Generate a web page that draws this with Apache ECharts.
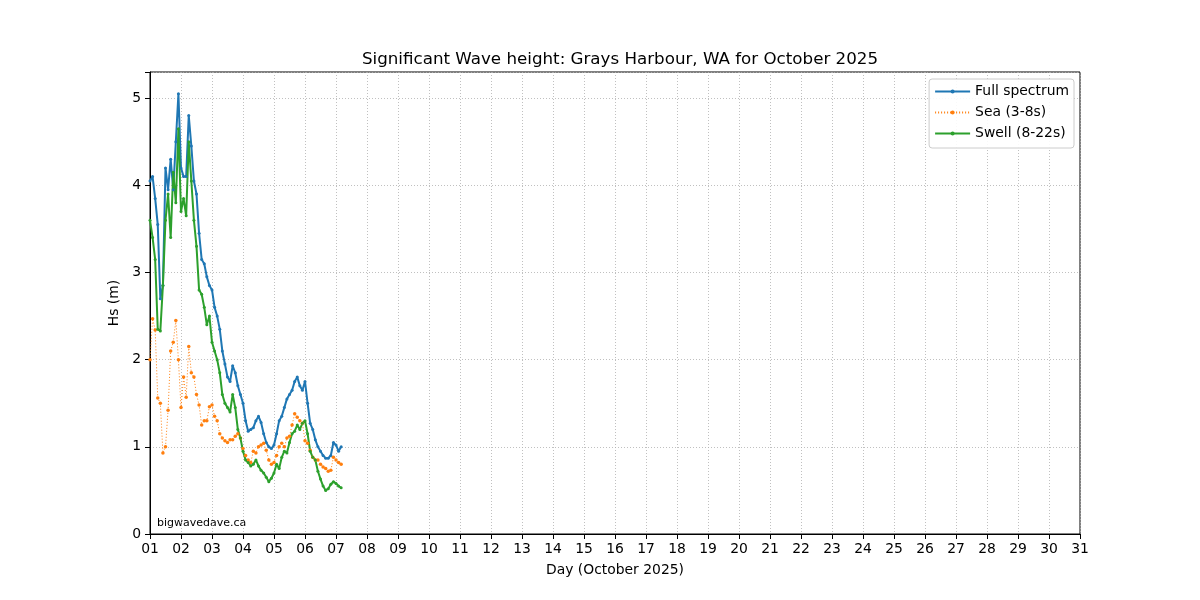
<!DOCTYPE html>
<html><head><meta charset="utf-8">
<script src="https://cdn.jsdelivr.net/npm/echarts@6/dist/echarts.min.js"></script>
<style>html,body{margin:0;padding:0;background:#fff}#c{width:1200px;height:600px}</style>
</head><body><div id="c"></div>
<script>
// hours since 2025-10-01 00:00
const hours = [0,2,4,6,8,10,12,14,16,18,20,22,24,26,28,30,32,34,36,38,40,42,44,46,48,50,52,54,56,58,60,62,64,66,68,70,72,74,76,78,80,82,84,86,88,90,92,94,96,98,100,102,104,106,108,110,112,114,116,118,120,122,124,126,128,130,132,134,136,138,140,142,144,146,148];
const fullSpectrum = [4.05,4.1,3.85,3.55,2.7,2.85,4.2,3.95,4.3,3.95,4.5,5.05,4.2,4.1,4.1,4.8,4.45,4.05,3.9,3.45,3.15,3.1,2.95,2.85,2.8,2.6,2.5,2.35,2.1,1.95,1.8,1.75,1.93,1.85,1.7,1.6,1.5,1.3,1.18,1.2,1.22,1.3,1.35,1.28,1.15,1.05,1.0,0.98,1.02,1.15,1.3,1.35,1.45,1.55,1.6,1.65,1.75,1.8,1.7,1.65,1.75,1.5,1.27,1.2,1.08,1.0,0.95,0.9,0.87,0.87,0.9,1.05,1.02,0.95,1.0];
const sea = [2.0,2.47,2.34,1.56,1.5,0.93,1.0,1.42,2.1,2.2,2.45,2.0,1.45,1.8,1.57,2.15,1.85,1.8,1.6,1.48,1.25,1.3,1.3,1.46,1.48,1.35,1.3,1.15,1.1,1.07,1.05,1.08,1.08,1.12,1.15,1.1,0.98,0.9,0.85,0.82,0.95,0.93,1.0,1.02,1.04,0.96,0.85,0.8,0.82,0.9,1.0,1.04,1.0,1.1,1.12,1.25,1.38,1.34,1.3,1.27,1.07,1.04,0.96,0.88,0.85,0.85,0.8,0.77,0.75,0.72,0.73,0.88,0.85,0.82,0.8];
const swell = [3.6,3.4,3.15,2.35,2.33,2.85,3.6,3.9,3.4,4.15,3.8,4.65,3.7,3.85,3.65,4.5,4.05,3.6,3.3,2.8,2.75,2.6,2.4,2.5,2.2,2.1,2.0,1.85,1.6,1.5,1.45,1.4,1.6,1.45,1.2,1.1,0.95,0.85,0.82,0.78,0.8,0.85,0.78,0.73,0.7,0.65,0.6,0.64,0.7,0.8,0.75,0.88,0.95,0.93,1.05,1.15,1.18,1.25,1.2,1.27,1.3,1.15,0.95,0.88,0.85,0.72,0.63,0.55,0.5,0.52,0.57,0.6,0.58,0.55,0.53];
const dayTicks = ['01','02','03','04','05','06','07','08','09','10','11','12','13','14','15','16','17','18','19','20','21','22','23','24','25','26','27','28','29','30','31'];

const toPairs = v => v.map((y, i) => [1 + hours[i] / 24, y]);
const font = 'DejaVu Sans';
const fs = 13.9;
const chart = echarts.init(document.getElementById('c'), null, {renderer: 'canvas'});
chart.setOption({
  animation: false,
  backgroundColor: '#ffffff',
  textStyle: {fontFamily: font},
  title: {
    text: 'Significant Wave height: Grays Harbour, WA for October 2025',
    left: 615, top: 46, textAlign: 'center',
    textStyle: {fontFamily: font, fontSize: 16.7, fontWeight: 'normal', color: '#000'}
  },
  grid: {left: 150, right: 120, top: 72, bottom: 66, show: true, borderColor: '#000', borderWidth: 1},
  legend: {
    orient: 'vertical', right: 126, top: 79,
    backgroundColor: 'rgba(255,255,255,0.9)', borderColor: '#cccccc', borderWidth: 1, borderRadius: 3,
    padding: [5, 5, 7, 5], itemGap: 6, itemWidth: 35, itemHeight: 5,
    textStyle: {fontFamily: font, fontSize: fs, color: '#000', lineHeight: 15},
    data: ['Full spectrum', 'Sea (3-8s)', 'Swell (8-22s)']
  },
  xAxis: {
    type: 'value', min: 1, max: 31, interval: 1,
    name: 'Day (October 2025)', nameLocation: 'middle', nameGap: 29,
    nameTextStyle: {fontFamily: font, fontSize: fs, color: '#000'},
    axisLine: {show: true, lineStyle: {color: '#000'}},
    axisTick: {show: true, length: 5, lineStyle: {color: '#000'}},
    axisLabel: {fontFamily: font, fontSize: fs, color: '#000', margin: 8,
      formatter: v => dayTicks[Math.round(v) - 1] || ''},
    splitLine: {show: true, lineStyle: {color: '#b0b0b0', type: [1, 2], width: 0.8}}
  },
  yAxis: {
    type: 'value', min: 0, max: 5.3, interval: 1,
    name: 'Hs (m)', nameLocation: 'middle', nameGap: 25, nameRotate: 90,
    nameTextStyle: {fontFamily: font, fontSize: fs, color: '#000'},
    axisLine: {show: true, lineStyle: {color: '#000'}},
    axisTick: {show: true, length: 5, lineStyle: {color: '#000'}},
    axisLabel: {fontFamily: font, fontSize: fs, color: '#000', margin: 9,
      formatter: v => (Math.abs(v - Math.round(v)) < 1e-6 ? String(Math.round(v)) : '')},
    splitLine: {show: true, lineStyle: {color: '#b0b0b0', type: [1, 2], width: 0.8}}
  },
  graphic: [{
    type: 'text', left: 157, top: 518,
    style: {text: 'bigwavedave.ca', fill: '#000', font: '11px "DejaVu Sans"'}
  }],
  series: [
    {name: 'Full spectrum', type: 'line', data: toPairs(fullSpectrum), color: '#1f77b4',
      symbol: 'circle', symbolSize: 3, showSymbol: true, lineStyle: {width: 2}, itemStyle: {color: '#1f77b4'}},
    {name: 'Sea (3-8s)', type: 'line', data: toPairs(sea), color: '#ff7f0e',
      symbol: 'circle', symbolSize: 3.5, showSymbol: true, lineStyle: {width: 1, type: [1, 2]}, itemStyle: {color: '#ff7f0e'}},
    {name: 'Swell (8-22s)', type: 'line', data: toPairs(swell), color: '#2ca02c',
      symbol: 'circle', symbolSize: 3, showSymbol: true, lineStyle: {width: 2}, itemStyle: {color: '#2ca02c'}}
  ]
});
</script></body></html>
